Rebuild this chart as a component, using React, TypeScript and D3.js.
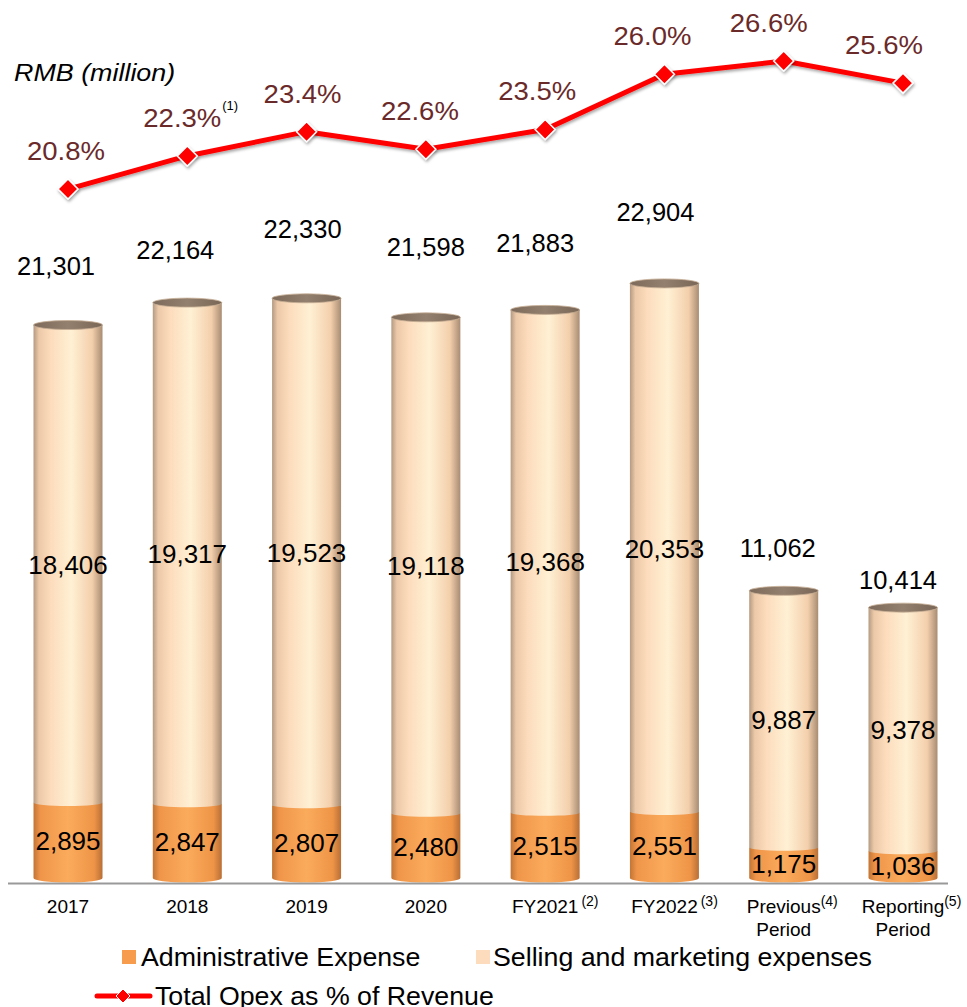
import React from "react";
import * as d3 from "d3";

const categories = ["2017", "2018", "2019", "2020", "FY2021", "FY2022", "Previous", "Reporting"];
const categorySecondLine = ["", "", "", "", "", "", "Period", "Period"];
const categoryNotes = ["", "", "", "", "(2)", "(3)", "(4)", "(5)"];
const adminExpense = [2895, 2847, 2807, 2480, 2515, 2551, 1175, 1036];
const sellingExpense = [18406, 19317, 19523, 19118, 19368, 20353, 9887, 9378];
const totalOpex = [21301, 22164, 22330, 21598, 21883, 22904, 11062, 10414];
const opexPct = [20.8, 22.3, 23.4, 22.6, 23.5, 26.0, 26.6, 25.6];
const pctNotes = ["", "(1)", "", "", "", "", "", ""];
const legendLabels = ["Administrative Expense", "Selling and marketing expenses", "Total Opex as % of Revenue"];

// label placement tweaks (layout only)
const totalLabelLift = [59, 53, 69, 70, 67, 71, 43, 28];
const totalLabelDx = [-12, -12, -4, 0, -10, -9, -6, -5];
const pctLabelDx = [-2, -5, -4, -6, -8, -12, -15, -19];

const W = 967;
const H = 1007;
const FONT = "'Liberation Sans', Arial, Helvetica, sans-serif";

let _ctx: CanvasRenderingContext2D | null = null;
function measure(text: string, size: number, italic = false): number {
  if (!_ctx) {
    const c = document.createElement("canvas");
    _ctx = c.getContext("2d");
  }
  if (!_ctx) return text.length * size * 0.55;
  _ctx.font = `${italic ? "italic " : ""}${size}px ${FONT}`;
  return _ctx.measureText(text).width;
}

function T(props: {
  x: number;
  y: number;
  size: number;
  sx?: number;
  anchor?: string;
  fill?: string;
  italic?: boolean;
  children: React.ReactNode;
}) {
  const { x, y, size, sx = 1, anchor = "start", fill = "#000", italic, children } = props;
  return (
    <text
      transform={`translate(${x},${y}) scale(${sx},1)`}
      fontSize={size}
      textAnchor={anchor}
      fill={fill}
      fontStyle={italic ? "italic" : "normal"}
    >
      {children}
    </text>
  );
}

export default function App() {
  const x = d3.scalePoint<string>().domain(categories).range([68, 903]).padding(0);
  const y = d3.scaleLinear().domain([0, 25000]).range([878, 878 - 25000 * 0.02596]);
  const yp = d3.scaleLinear().domain([20, 27]).range([206.7, 52.2]);
  const barW = 69;
  const ry = 4.5;
  const fmt = d3.format(",");

  const line = d3
    .line<number>()
    .x((_, i) => x(categories[i]) as number)
    .y((d) => yp(d));

  const diamond = "M0,-10L10,0L0,10L-10,0Z";
  const pctSize = 25;
  const pctSx = 1.1;
  const catSize = 19;

  return (
    <svg
      width={W}
      height={H}
      style={{ position: "absolute", left: 0, top: 0, background: "#fff" }}
      fontFamily={FONT}
    >
      <defs>
        <linearGradient id="sellGrad" x1="0" x2="1" y1="0" y2="0">
          <stop offset="0%" stopColor="#b49a82" />
          <stop offset="8%" stopColor="#ecc9a8" />
          <stop offset="25%" stopColor="#fcdcbc" />
          <stop offset="55%" stopColor="#fff0d4" />
          <stop offset="85%" stopColor="#f3cfac" />
          <stop offset="100%" stopColor="#a88c72" />
        </linearGradient>
        <linearGradient id="adminGrad" x1="0" x2="1" y1="0" y2="0">
          <stop offset="0%" stopColor="#c27535" />
          <stop offset="10%" stopColor="#ef954a" />
          <stop offset="50%" stopColor="#fbab5c" />
          <stop offset="88%" stopColor="#ee9447" />
          <stop offset="100%" stopColor="#b86f36" />
        </linearGradient>
        <linearGradient id="topGrad" x1="0" x2="1" y1="0" y2="0">
          <stop offset="0%" stopColor="#7e6a5a" />
          <stop offset="50%" stopColor="#94806e" />
          <stop offset="100%" stopColor="#7a6656" />
        </linearGradient>
        <filter id="shadow" x="-30%" y="-30%" width="160%" height="160%">
          <feDropShadow dx="1" dy="2" stdDeviation="1.5" floodColor="#000" floodOpacity="0.35" />
        </filter>
      </defs>

      {/* bars */}
      {categories.map((c, i) => {
        const cx = x(c) as number;
        const x0 = cx - barW / 2;
        const yBase = y(0);
        const yAdmin = y(adminExpense[i]);
        const yTop = y(adminExpense[i] + sellingExpense[i]);
        const rx = barW / 2;
        const adminPath = `M${x0},${yAdmin}L${x0},${yBase}A${rx},${ry} 0 0 0 ${x0 + barW},${yBase}L${x0 + barW},${yAdmin}Z`;
        const sellPath = `M${x0},${yTop}L${x0},${yAdmin}A${rx},${ry * 0.7} 0 0 0 ${x0 + barW},${yAdmin}L${x0 + barW},${yTop}Z`;
        return (
          <g key={c}>
            <path d={adminPath} fill="url(#adminGrad)" />
            <path d={sellPath} fill="url(#sellGrad)" />
            <ellipse cx={cx} cy={yTop} rx={rx} ry={ry} fill="url(#topGrad)" stroke="#c6ae96" strokeWidth={0.8} />
          </g>
        );
      })}

      {/* axis line */}
      <line x1={8} x2={948} y1={883.5} y2={883.5} stroke="#999" strokeWidth={2} />

      {/* segment labels */}
      {categories.map((c, i) => {
        const cx = x(c) as number;
        const ySellMid = (y(adminExpense[i]) + y(adminExpense[i] + sellingExpense[i])) / 2;
        const yAdminMid = (y(0) + y(adminExpense[i])) / 2;
        return (
          <g key={"seg" + c}>
            <T x={cx} y={ySellMid + 10} size={26} anchor="middle">{fmt(sellingExpense[i])}</T>
            <T x={cx} y={yAdminMid + 10} size={26} anchor="middle">{fmt(adminExpense[i])}</T>
          </g>
        );
      })}

      {/* total labels */}
      {categories.map((c, i) => {
        const cx = x(c) as number;
        const yTop = y(totalOpex[i]);
        return (
          <T key={"tot" + c} x={cx + totalLabelDx[i]} y={yTop - totalLabelLift[i] + 9} size={25.5} anchor="middle">
            {fmt(totalOpex[i])}
          </T>
        );
      })}

      {/* percent line */}
      <path d={line(opexPct) || ""} fill="none" stroke="#ff0000" strokeWidth={5} strokeLinejoin="round" filter="url(#shadow)" />
      {opexPct.map((v, i) => (
        <path
          key={"dm" + i}
          d={diamond}
          transform={`translate(${x(categories[i])},${yp(v)})`}
          fill="#ff0000"
          stroke="#fff"
          strokeWidth={1.5}
          filter="url(#shadow)"
        />
      ))}
      {opexPct.map((v, i) => {
        const cx = (x(categories[i]) as number) + pctLabelDx[i];
        const cy = yp(v) - 38 + 9;
        const label = v.toFixed(1) + "%";
        const half = (measure(label, pctSize) * pctSx) / 2;
        return (
          <g key={"pl" + i}>
            <T x={cx} y={cy} size={pctSize} sx={pctSx} anchor="middle" fill="#6b2a2a">
              {label}
            </T>
            {pctNotes[i] && (
              <T x={cx + half + 1} y={cy - 17} size={13}>
                {pctNotes[i]}
              </T>
            )}
          </g>
        );
      })}

      <T x={14} y={81} size={24} sx={1.12} italic>
        RMB (million)
      </T>

      {/* category labels */}
      {categories.map((c, i) => {
        const cx = x(c) as number;
        const two = categorySecondLine[i] !== "";
        const half = measure(c, catSize) / 2;
        return (
          <g key={"cat" + c}>
            <T x={cx} y={913} size={catSize} anchor="middle">
              {c}
            </T>
            {categoryNotes[i] && (
              <T x={cx + half + (two ? 0 : 3)} y={906} size={14}>
                {categoryNotes[i]}
              </T>
            )}
            {two && (
              <T x={cx} y={936} size={catSize} anchor="middle">
                {categorySecondLine[i]}
              </T>
            )}
          </g>
        );
      })}

      {/* legend */}
      <rect x={122} y={950} width={14} height={14} fill="#f79c4c" />
      <T x={141} y={966} size={25} sx={1.07}>{legendLabels[0]}</T>
      <rect x={476} y={950} width={14} height={14} fill="#fddcbd" />
      <T x={493} y={966} size={25} sx={1.07}>{legendLabels[1]}</T>
      <line x1={97} x2={150} y1={996} y2={996} stroke="#ff0000" strokeWidth={5} strokeLinecap="round" />
      <path d="M0,-7L7,0L0,7L-7,0Z" transform="translate(123,996)" fill="#ff0000" stroke="#fff" strokeWidth={1} />
      <T x={155} y={1005} size={25} sx={1.07}>{legendLabels[2]}</T>
    </svg>
  );
}
